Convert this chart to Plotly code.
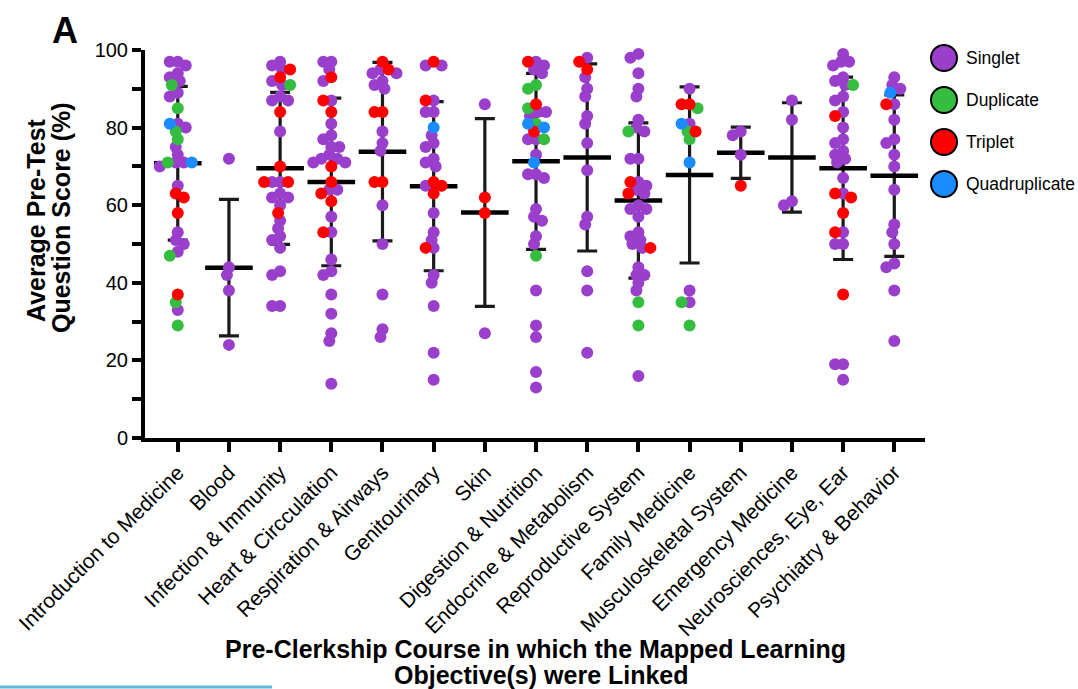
import plotly.graph_objects as go

# ---- data -------------------------------------------------------------
categories = [
    "Introduction to Medicine", "Blood", "Infection & Immunity",
    "Heart & Circculation", "Respiration & Airways", "Genitourinary", "Skin",
    "Digestion & Nutrition", "Endocrine & Metabolism", "Reproductive System",
    "Family Medicine", "Musculoskeletal System", "Emergency Medicine",
    "Neurosciences, Eye, Ear", "Psychiatry & Behavior",
]

singlet = [
    [97, 97, 96, 94, 93, 92, 89, 88, 81, 80, 75, 73, 71, 71, 70, 65, 53, 51, 50, 48, 33],
    [72, 44, 42, 38, 24],
    [97, 96, 95, 92, 91, 88, 87, 87, 79, 66, 66, 63, 62, 62, 60, 56, 54, 52, 51, 49, 43, 42, 34, 34],
    [97, 97, 95, 92, 87, 81, 78, 77, 75, 75, 73, 72, 72, 71, 71, 64, 64, 57, 53, 46, 43, 42, 37, 32, 27, 25, 14],
    [95, 94, 94, 92, 91, 90, 79, 76, 74, 60, 50, 37, 28, 26],
    [96, 96, 87, 84, 84, 78, 76, 75, 72, 71, 70, 65, 58, 53, 51, 49, 42, 40, 34, 22, 15],
    [86, 27],
    [97, 96, 95, 94, 84, 84, 83, 77, 77, 73, 68, 68, 67, 59, 57, 56, 52, 50, 38, 29, 26, 17, 13],
    [98, 93, 90, 88, 83, 81, 76, 69, 57, 55, 43, 38, 22],
    [99, 98, 94, 90, 88, 82, 80, 79, 72, 72, 66, 65, 64, 63, 60, 59, 59, 57, 53, 52, 51, 50, 49, 44, 42, 42, 40, 38, 16],
    [90, 81, 38, 35],
    [79, 78, 73],
    [87, 82, 61, 60],
    [99, 97, 97, 96, 93, 92, 91, 88, 87, 84, 80, 77, 76, 74, 73, 72, 71, 67, 63, 53, 50, 50, 19, 19, 15],
    [93, 91, 90, 86, 82, 77, 76, 73, 70, 64, 55, 53, 50, 45, 44, 38, 25],
]
duplicate = [
    [91, 85, 79, 77, 71, 47, 35, 29], [], [91], [], [], [], [],
    [91, 90, 85, 81, 77, 47], [], [79, 35, 29], [85, 79, 77, 35, 29],
    [], [], [91], [],
]
triplet = [
    [63, 62, 58, 37], [], [95, 93, 84, 70, 66, 66, 58],
    [93, 87, 84, 70, 66, 63, 61, 53], [97, 95, 84, 84, 66, 66],
    [97, 87, 66, 65, 63, 49], [62, 58], [97, 86, 79], [97, 95],
    [66, 63, 49], [86, 86, 79], [65], [], [83, 63, 62, 58, 53, 37], [86],
]
quadruplicate = [
    [81, 71], [], [], [], [], [80], [], [81, 80, 71], [], [], [81, 71],
    [], [], [], [89],
]

means = [70.8, 43.9, 69.5, 66.0, 73.8, 64.9, 58.1, 71.3, 72.3, 61.2,
         67.8, 73.5, 72.3, 69.5, 67.6]
sds = [19.8, 17.6, 19.6, 21.6, 23.0, 21.8, 24.2, 22.7, 24.1, 20.0,
       22.7, 6.6, 14.1, 23.5, 20.8]

groups = ["Singlet", "Duplicate", "Triplet", "Quadruplicate"]
group_colors = ["#9A3FCB", "#35BD3F", "#FF0000", "#1A8CFF"]
group_values = [singlet, duplicate, triplet, quadruplicate]

y_ticks = [0, 20, 40, 60, 80, 100]

# ---- geometry -----------------------------------------------------------
W, H = 1078, 689
ML, MR, MT, MB = 145, 153, 50, 251
plot_w = W - ML - MR
plot_h = H - MT - MB
x_range = [-0.64, len(categories) - 0.4]
px_per_cat = plot_w / (x_range[1] - x_range[0])
px_per_val = plot_h / 100.0


def swarm_offsets(values, dmin=8.0, step=2.0):
    """Greedy beeswarm: offsets (in px) so dots in a column don't pile up."""
    order = sorted(range(len(values)), key=lambda i: -values[i])
    placed = []
    offs = [0.0] * len(values)
    for i in order:
        y = values[i] * px_per_val
        k = 0
        chosen = None
        while chosen is None:
            cands = [0.0] if k == 0 else [-k * step, k * step]
            for c in cands:
                if all((c - px) ** 2 + (y - py) ** 2 >= dmin ** 2 for px, py in placed):
                    chosen = c
                    break
            k += 1
        placed.append((chosen, y))
        offs[i] = chosen
    return offs


# per group x/y lists
gx = [[] for _ in groups]
gy = [[] for _ in groups]
for ci in range(len(categories)):
    vals, tags = [], []
    for gi, gv in enumerate(group_values):
        for v in gv[ci]:
            vals.append(v)
            tags.append(gi)
    offs = swarm_offsets(vals)
    for v, t, o in zip(vals, tags, offs):
        gx[t].append(ci + o / px_per_cat)
        gy[t].append(v)

fig = go.Figure()

# mean +/- SD
fig.add_trace(go.Scatter(
    x=list(range(len(categories))), y=means, mode="markers",
    marker=dict(symbol="line-ew", size=34, line=dict(width=4.5, color="black")),
    error_y=dict(type="data", array=sds, visible=True, thickness=3.2,
                 width=10, color="#1a1a1a"),
    showlegend=False, hoverinfo="skip", cliponaxis=False,
))

for gi, name in enumerate(groups):
    fig.add_trace(go.Scatter(
        x=gx[gi], y=gy[gi], mode="markers", name=name,
        marker=dict(size=12, color=group_colors[gi], line=dict(width=0)),
        showlegend=False, cliponaxis=False,
    ))

font_family = "Liberation Sans, Arial, Helvetica, sans-serif"


def px_x(px):
    return (px - ML) / plot_w


def px_y(py):
    return (H - MB - py) / plot_h


annotations = [
    dict(text="<b>A</b>", x=px_x(65), y=px_y(31), xref="paper", yref="paper",
         showarrow=False, font=dict(size=36, color="black", family=font_family),
         xanchor="center", yanchor="middle"),
    dict(text="<b>Average Pre-Test</b>", x=px_x(36), y=px_y(220), xref="paper",
         yref="paper", showarrow=False, textangle=-90,
         font=dict(size=25, color="black", family=font_family),
         xanchor="center", yanchor="middle"),
    dict(text="<b>Question Score (%)</b>", x=px_x(61), y=px_y(218), xref="paper",
         yref="paper", showarrow=False, textangle=-90,
         font=dict(size=25, color="black", family=font_family),
         xanchor="center", yanchor="middle"),
    dict(text="<b>Pre-Clerkship Course in which the Mapped Learning</b>",
         x=px_x(535), y=px_y(649), xref="paper", yref="paper", showarrow=False,
         font=dict(size=25, color="black", family=font_family),
         xanchor="center", yanchor="middle"),
    dict(text="<b>Objective(s) were Linked</b>",
         x=px_x(541), y=px_y(675), xref="paper", yref="paper", showarrow=False,
         font=dict(size=25, color="black", family=font_family),
         xanchor="center", yanchor="middle"),
]

shapes = []
legend_y = [58, 100, 142, 184]
for gi, name in enumerate(groups):
    yc = px_y(legend_y[gi])
    shapes.append(dict(
        type="circle", xref="paper", yref="paper",
        xsizemode="pixel", ysizemode="pixel",
        xanchor=px_x(944), yanchor=yc, x0=-13, x1=13, y0=-13, y1=13,
        fillcolor=group_colors[gi], line=dict(color="black", width=2),
    ))
    annotations.append(dict(
        text=name, x=px_x(964), y=yc, xref="paper", yref="paper",
        showarrow=False, xanchor="left", yanchor="middle",
        font=dict(size=17.5, color="black", family=font_family),
    ))

# thin blue rule at the lower left
shapes.append(dict(type="line", xref="paper", yref="paper",
                   x0=px_x(0), x1=px_x(272), y0=px_y(687), y1=px_y(687),
                   line=dict(color="#63BADB", width=3)))

fig.update_layout(
    width=W, height=H,
    margin=dict(l=ML, r=MR, t=MT, b=MB, autoexpand=False),
    paper_bgcolor="white", plot_bgcolor="white",
    font=dict(family=font_family, color="black"),
    showlegend=False,
    annotations=annotations,
    shapes=shapes,
    xaxis=dict(
        range=x_range, tickmode="array", tickvals=list(range(len(categories))),
        ticktext=categories, tickangle=-45, ticks="outside", ticklen=10,
        tickwidth=4, tickcolor="black", showline=True, linewidth=4,
        linecolor="black", showgrid=False, zeroline=False,
        tickfont=dict(size=21, color="black", family=font_family),
    ),
    yaxis=dict(
        range=[0, 100], tickmode="array", tickvals=y_ticks,
        ticks="outside", ticklen=9, tickwidth=3.5, tickcolor="black",
        minor=dict(dtick=10, ticks="outside", ticklen=9, tickwidth=3.5,
                   tickcolor="black", showgrid=False),
        showline=True, linewidth=4, linecolor="black", showgrid=False,
        zeroline=False, tickfont=dict(size=20, color="black", family=font_family),
    ),
)

fig.write_html("out.html")
